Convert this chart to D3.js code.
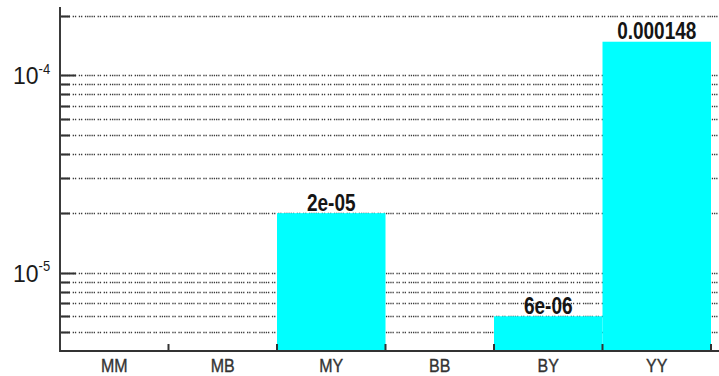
<!DOCTYPE html>
<html>
<head>
<meta charset="utf-8">
<script src="https://cdn.jsdelivr.net/npm/d3@7"></script>
<style>
  html, body { margin: 0; padding: 0; background: #fff; }
  svg { display: block; font-family: "Liberation Sans", Arial, sans-serif; }
</style>
</head>
<body>
<svg id="chart" width="719" height="376"></svg>
<script>
// Genotype categories and their frequencies (0 = no bar on the log axis)
const categories = ["MM", "MB", "MY", "BB", "BY", "YY"];
const values = [0, 0, 2e-5, 0, 6e-6, 1.48e-4];

// Decade labels shown on the y axis: [value, exponent text]
const decadeTicks = [[1e-4, "-4"], [1e-5, "-5"]];

const yDomain = [4e-6, 2.22e-4];

// %g-style text for a value
function gFormat(v) {
  const exp = Math.floor(Math.log10(v));
  if (exp < -4) {
    const [m, e] = v.toExponential().split("e");
    const sign = e[0];
    const digits = e.slice(1).padStart(2, "0");
    return m + "e" + sign + digits;
  }
  return String(+v.toPrecision(6));
}

const svg = d3.select("#chart");
const plotLeft = 60, plotRight = 711, plotTop = 7, plotBottom = 351, gridRight = 719;

const x = d3.scaleBand().domain(categories).range([plotLeft, plotRight]).padding(0);
const y = d3.scaleLog().domain(yDomain).range([plotBottom, plotTop]);

const gridValues = y.ticks().filter(v => v > yDomain[0]);
const isDecade = v => Math.abs(Math.log10(v) - Math.round(Math.log10(v))) < 1e-9;

// dotted horizontal gridlines
svg.append("g")
  .selectAll("line")
  .data(gridValues)
  .join("line")
  .attr("x1", plotLeft)
  .attr("x2", gridRight)
  .attr("y1", d => Math.round(y(d)) + 0.5)
  .attr("y2", d => Math.round(y(d)) + 0.5)
  .attr("stroke", "#3c3c3c")
  .attr("stroke-width", 1.4)
  .attr("stroke-dasharray", "1.3,0.9,1.3,0.9,1.3,0.9,1.3,0.9,1.3,2.6,1.3,0.9,1.3,2.6,1.3,0.9,1.3,2.6");

// bars
const data = categories.map((c, i) => ({ c, v: values[i] }));
svg.append("g")
  .selectAll("rect")
  .data(data.filter(d => d.v > 0))
  .join("rect")
  .attr("x", d => x(d.c))
  .attr("width", x.bandwidth())
  .attr("y", d => y(d.v))
  .attr("height", d => plotBottom - y(d.v))
  .attr("fill", "#00ffff");

// value labels above bars (slightly tall lettering)
svg.append("g")
  .selectAll("text")
  .data(data.filter(d => d.v > 0))
  .join("text")
  .attr("transform", d => `translate(${x(d.c) + x.bandwidth() / 2},${y(d.v) - 2.5}) scale(1,1.24)`)
  .attr("text-anchor", "middle")
  .attr("font-size", 19)
  .attr("font-weight", "bold")
  .attr("fill", "#151515")
  .text(d => gFormat(d.v));

// y axis: solid inward ticks, longer at decades
const yAxis = svg.append("g");
yAxis.selectAll("line.tick")
  .data(gridValues)
  .join("line")
  .attr("class", "tick")
  .attr("x1", plotLeft)
  .attr("x2", d => plotLeft + (isDecade(d) ? 16 : 10))
  .attr("y1", d => Math.round(y(d)) + 0.5)
  .attr("y2", d => Math.round(y(d)) + 0.5)
  .attr("stroke", "#333")
  .attr("stroke-width", 2);
yAxis.append("line")
  .attr("x1", plotLeft).attr("x2", plotLeft)
  .attr("y1", plotTop).attr("y2", plotBottom + 1)
  .attr("stroke", "#3a3a3a")
  .attr("stroke-width", 2);

// decade labels 10^n
const lab = yAxis.selectAll("text.dec")
  .data(decadeTicks)
  .join("text")
  .attr("class", "dec")
  .attr("transform", d => `translate(13,${y(d[0]) + 9}) scale(1,1.08)`)
  .attr("fill", "#1a1a1a")
  .attr("font-size", 23);
lab.append("tspan").text("10");
lab.append("tspan")
  .attr("font-size", 13)
  .attr("dy", -10)
  .text(d => d[1]);

// x axis with ticks at category boundaries
const xAxis = svg.append("g");
xAxis.append("line")
  .attr("x1", plotLeft).attr("x2", gridRight)
  .attr("y1", plotBottom).attr("y2", plotBottom)
  .attr("stroke", "#333")
  .attr("stroke-width", 2);
const bounds = categories.map(c => x(c) + x.bandwidth());
xAxis.selectAll("line.tick")
  .data(bounds)
  .join("line")
  .attr("class", "tick")
  .attr("x1", d => d).attr("x2", d => d)
  .attr("y1", plotBottom).attr("y2", plotBottom - 7)
  .attr("stroke", "#333")
  .attr("stroke-width", 2);
xAxis.selectAll("text")
  .data(categories)
  .join("text")
  .attr("transform", d => `translate(${x(d) + x.bandwidth() / 2},372) scale(1,1.12)`)
  .attr("text-anchor", "middle")
  .attr("font-size", 16)
  .attr("fill", "#333")
  .attr("stroke", "#333")
  .attr("stroke-width", 0.3)
  .text(d => d);
</script>
</body>
</html>
